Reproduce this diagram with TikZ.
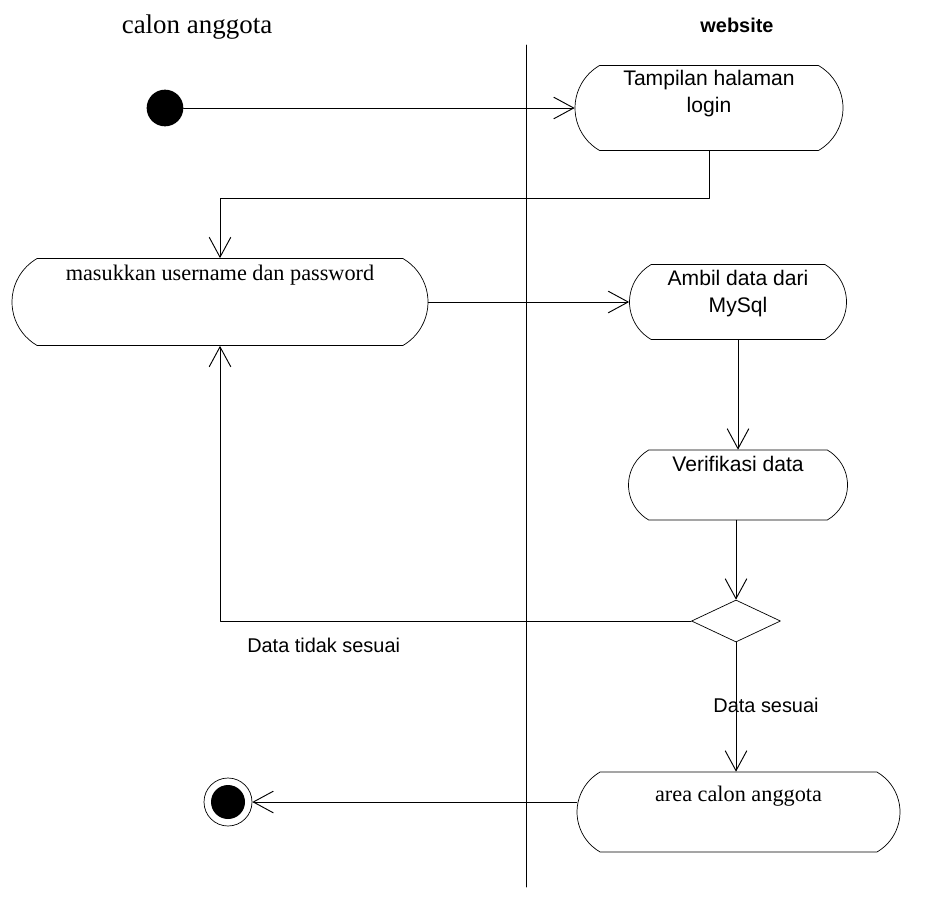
\documentclass[tikz,border=0pt]{standalone}
\usepackage{fontspec}
\setmainfont{Liberation Serif}
\newfontfamily\sansf{Liberation Sans}
\usetikzlibrary{arrows.meta,positioning,shapes.misc,shapes.geometric}

\begin{document}
\begin{tikzpicture}
  [line cap=round,line join=round,x=0.3mm,y=-0.3mm,
   >={Straight Barb[length=6mm,width=6.5mm]},
   act/.style={rounded rectangle,rounded rectangle arc length=120,draw,line width=0.6pt,inner sep=0pt},
   stxt/.style={font=\sansf\fontsize{18}{23}\selectfont,align=center,inner sep=0pt},
   rtxt/.style={font=\fontsize{19}{23}\selectfont,align=center,inner sep=0pt},
   lbl/.style={font=\sansf\fontsize{17}{20}\selectfont,inner sep=0pt},
   flow/.style={->,line width=0.8pt}]
  \useasboundingbox (0,0) rectangle (937,904);
  \draw [line width=0.8pt] (526,45) -- (526,887);
  \node [font=\fontsize{23}{26}\selectfont] (laneuser) at (197,27) {calon anggota};
  \node [font=\sansf\bfseries\fontsize{17}{20}\selectfont] (laneweb) at (737,25) {website};
  \node [circle,fill=black,minimum size=11mm,inner sep=0pt] (start) at (165,108) {};
  \node [act,minimum width=80.4mm,minimum height=25.5mm] (login) at (709,108) {};
  \node [stxt,below=4pt of login.north] (logintext) {Tampilan halaman\\login};
  \node [act,minimum width=124.8mm,minimum height=26.1mm] (input) at (220,302) {};
  \node [rtxt,below=6pt of input.north] (inputtext) {masukkan username dan password};
  \node [act,minimum width=65.1mm,minimum height=22.5mm] (ambil) at (738,302) {};
  \node [stxt,below=5pt of ambil.north] (ambiltext) {Ambil data dari\\MySql};
  \node [act,minimum width=65.7mm,minimum height=21mm] (verif) at (738,485) {};
  \node [stxt,below=5pt of verif.north] (veriftext) {Verifikasi data};
  \node [diamond,draw,line width=0.6pt,minimum width=26.7mm,minimum height=12.6mm,inner sep=0pt] (dec) at (736,621) {};
  \node [act,minimum width=96.9mm,minimum height=24mm] (area) at (738.5,812) {};
  \node [rtxt,below=12pt of area.north] (areatext) {area calon anggota};
  \node [circle,draw,line width=0.6pt,minimum size=14.4mm,inner sep=0pt,
    path picture={\fill (path picture bounding box.center) circle (5.1mm);}] (stop) at (228,802) {};
  \coordinate (k1) at (709,198);
  \draw [flow] (start) -- (login);
  \draw [flow] (login.south) -- (k1) -| (input.north);
  \draw [flow] (input.east) -- (ambil.west);
  \draw [flow] (ambil.south) -- (verif.north);
  \draw [flow] (verif.south -| dec.north) -- (dec.north);
  \draw [flow] (dec.west) -| node [lbl,pos=0.39,below=14pt] (notok) {Data tidak sesuai} (input.south);
  \draw [flow] (dec.south) -- node [lbl,pos=0.49,xshift=9mm] (ok) {Data sesuai} (dec.south |- area.north);
  \draw [flow] (area.west |- stop) -- (stop);
\end{tikzpicture}
\end{document}
